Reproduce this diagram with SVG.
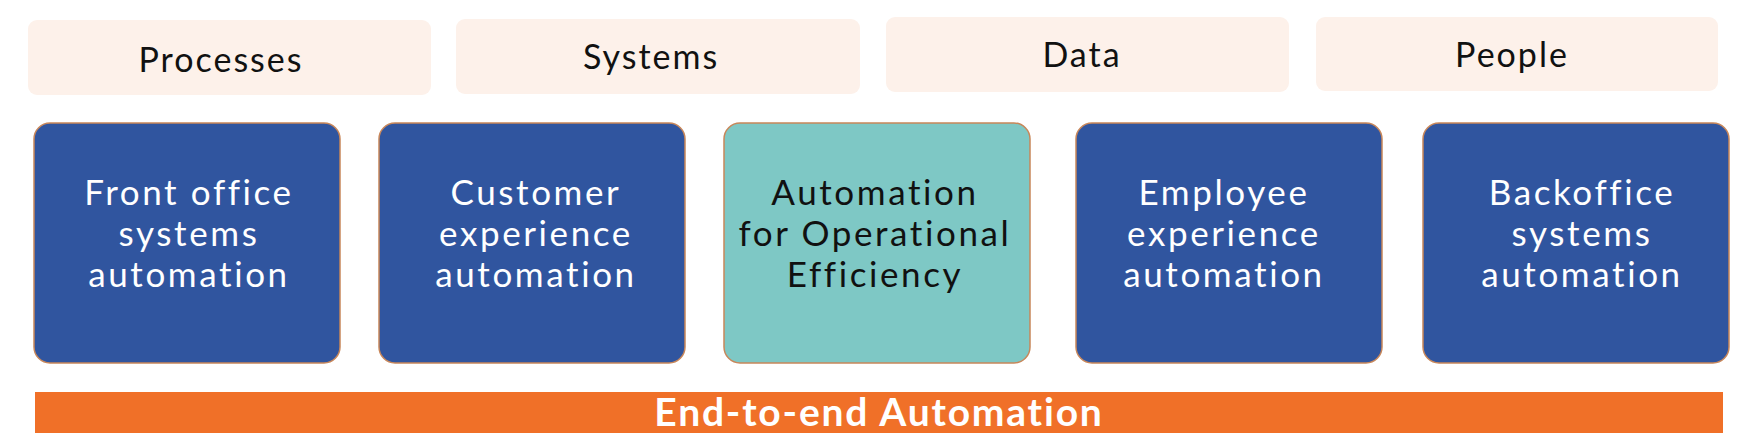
<svg xmlns="http://www.w3.org/2000/svg" width="1760" height="448" viewBox="0 0 1760 448">
<style>
.hdr{fill:#fdf1ea}
.hdrt{font-family:Lato,"Open Sans",sans-serif;font-size:34px;fill:#111;text-anchor:middle;letter-spacing:2px}
.blue{fill:#30559f;stroke:#c8875a;stroke-width:1.5}
.teal{fill:#7ec8c5;stroke:#c8875a;stroke-width:1.5}
.bt{font-family:Lato,"Open Sans",sans-serif;font-size:35px;fill:#fff;text-anchor:middle;letter-spacing:2.6px}
.tt{font-family:Lato,"Open Sans",sans-serif;font-size:35px;fill:#111;text-anchor:middle;letter-spacing:2.6px}
.bar{fill:#f07028}
.bart{font-family:Lato,"Open Sans",sans-serif;font-size:39px;font-weight:700;fill:#fff;text-anchor:middle;letter-spacing:1.8px}
</style>
<rect width="1760" height="448" fill="#ffffff"/>
<g id="processes"><rect class="hdr" x="28" y="20" width="403" height="75" rx="9"/><text class="hdrt" x="221" y="72">Processes</text></g>
<g id="systems"><rect class="hdr" x="456" y="19" width="404" height="75" rx="9"/><text class="hdrt" x="651" y="69">Systems</text></g>
<g id="data"><rect class="hdr" x="886" y="17" width="403" height="75" rx="9"/><text class="hdrt" x="1082" y="67">Data</text></g>
<g id="people"><rect class="hdr" x="1316" y="17" width="402" height="74" rx="9"/><text class="hdrt" x="1512" y="67">People</text></g>
<g id="front-office"><rect class="blue" x="34" y="123" width="306" height="240" rx="16"/><text class="bt"><tspan x="189" y="205">Front office</tspan><tspan x="189" y="246">systems</tspan><tspan x="189" y="287">automation</tspan></text></g>
<g id="customer"><rect class="blue" x="379" y="123" width="306" height="240" rx="16"/><text class="bt"><tspan x="536" y="205">Customer</tspan><tspan x="536" y="246">experience</tspan><tspan x="536" y="287">automation</tspan></text></g>
<g id="operational"><rect class="teal" x="724" y="123" width="306" height="240" rx="16"/><text class="tt"><tspan x="875" y="205">Automation</tspan><tspan x="875" y="246">for Operational</tspan><tspan x="875" y="287">Efficiency</tspan></text></g>
<g id="employee"><rect class="blue" x="1076" y="123" width="306" height="240" rx="16"/><text class="bt"><tspan x="1224" y="205">Employee</tspan><tspan x="1224" y="246">experience</tspan><tspan x="1224" y="287">automation</tspan></text></g>
<g id="backoffice"><rect class="blue" x="1423" y="123" width="306" height="240" rx="16"/><text class="bt"><tspan x="1582" y="205">Backoffice</tspan><tspan x="1582" y="246">systems</tspan><tspan x="1582" y="287">automation</tspan></text></g>
<g id="end-to-end"><rect class="bar" x="35" y="392" width="1688" height="41"/><text class="bart" x="879" y="426">End-to-end Automation</text></g>
<g id="connectors"></g>
</svg>
